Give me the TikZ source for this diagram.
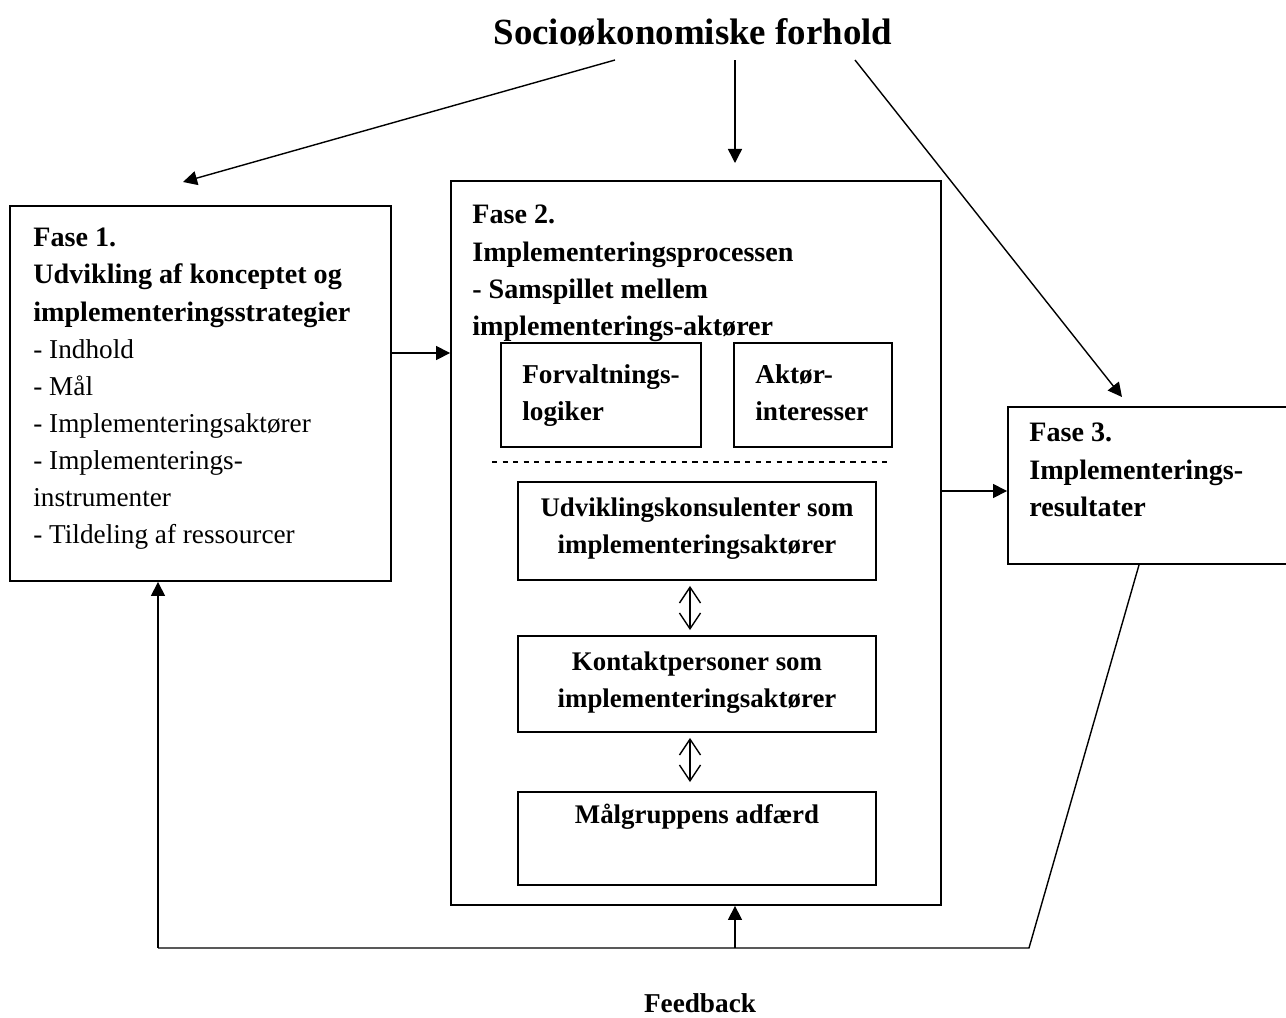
\documentclass[tikz,border=0pt]{standalone}
\usepackage{fontspec}
\setmainfont{Liberation Serif}
\usetikzlibrary{arrows.meta}

\newcommand{\hdfont}{\bfseries\fontsize{16}{21.1}\selectfont}

\tikzset{
  box/.style={draw, line width=1.1pt, inner sep=0pt},
  txt/.style={inner sep=0pt, align=left, anchor=north west, font=\fontsize{15.5}{21.1}\selectfont},
  head/.style={txt, font=\hdfont},
  ctxt/.style={inner sep=0pt, align=center, anchor=north, font=\bfseries\fontsize{15.3}{21.1}\selectfont},
  arr/.style={line width=0.8pt, -{Triangle[length=8pt,width=8pt]}},
  dbl/.style={line width=0.8pt, {Straight Barb[length=9pt,width=12pt]}-{Straight Barb[length=9pt,width=12pt]}},
}

\begin{document}
\begin{tikzpicture}[x=0.02cm, y=-0.02cm]
\useasboundingbox (0,0) rectangle (1286,1018);
% the three phases
\node[box, minimum width=7.62cm, minimum height=7.5cm] (f1) at (200.5,393.5) {};
\node[box, minimum width=9.8cm, minimum height=14.48cm] (f2) at (696,543) {};
\node[box, minimum width=5.68cm, minimum height=3.14cm] (f3) at (1150,485.5) {};
% boxes inside phase 2
\node[box, minimum width=4cm, minimum height=2.08cm] (forv) at (601,395) {};
\node[box, minimum width=3.16cm, minimum height=2.08cm] (akt) at (813,395) {};
\node[box, minimum width=7.16cm, minimum height=1.96cm] (udv) at (697,531) {};
\node[box, minimum width=7.16cm, minimum height=1.92cm] (kont) at (697,684) {};
\node[box, minimum width=7.16cm, minimum height=1.86cm] (maal) at (697,838.5) {};
\draw[dashed, line width=0.6pt] (492,462) -- (890,462);

% texts
\node[inner sep=0pt, font=\bfseries\fontsize{21}{25}\selectfont] (title) at (693,32) {Socioøkonomiske forhold};
\node[txt] (f1txt) at (33,228) {\textbf{\hdfont Fase 1.}\\\textbf{\hdfont Udvikling af konceptet og}\\\textbf{\hdfont implementeringsstrategier}\\- Indhold\\- Mål\\- Implementeringsaktører\\- Implementerings-\\instrumenter\\- Tildeling af ressourcer};
\node[head] (f2txt) at (472,205) {Fase 2.\\Implementeringsprocessen\\- Samspillet mellem\\implementerings-aktører};
\node[txt, font=\bfseries\fontsize{15.5}{21.1}\selectfont] (forvtxt) at (522,364) {Forvaltnings-\\logiker};
\node[txt, font=\bfseries\fontsize{15.5}{21.1}\selectfont] (akttxt) at (755,364) {Aktør-\\interesser};
\node[head] (f3txt) at (1029,423) {Fase 3.\\Implementerings-\\resultater};
\node[ctxt] (udvtxt) at (697,497) {Udviklingskonsulenter som\\implementeringsaktører};
\node[ctxt] (konttxt) at (697,651) {Kontaktpersoner som\\implementeringsaktører};
\node[ctxt] (maaltxt) at (697,804) {Målgruppens adfærd};
\node[inner sep=0pt, font=\bfseries\fontsize{15.5}{21.1}\selectfont] (fb) at (700,1003) {Feedback};

% arrows from the title
\coordinate (t1) at (615,60);
\coordinate (t2) at (735,60);
\coordinate (t3) at (855,60);
\coordinate (e1) at (183,182);
\coordinate (e2) at (735,163);
\coordinate (e3) at (1122,397);
\draw[arr] (t1) -- (e1);
\draw[arr] (t2) -- (e2);
\draw[arr] (t3) -- (e3);

% arrows between the phases
\coordinate (h1) at (0,353);
\coordinate (h2) at (0,491);
\draw[arr] (f1.east |- h1) -- (f2.west |- h1);
\draw[arr] (f2.east |- h2) -- (f3.west |- h2);
\draw[dbl] ([xshift=-0.14cm,yshift=-0.1cm]udv.south) -- ([xshift=-0.14cm,yshift=0.1cm]kont.north);
\draw[dbl] ([xshift=-0.14cm,yshift=-0.1cm]kont.south) -- ([xshift=-0.14cm,yshift=0.18cm]maal.north);

% feedback loop
\coordinate (b0) at (1139,0);
\coordinate (b1) at (1029,948);
\coordinate (b2) at (158,948);
\coordinate (b3) at (735,948);
\draw[line width=0.8pt] (f3.south -| b0) -- (b1) -- (b2);
\draw[arr] (b2) -- (b2 |- f1.south);
\draw[arr] (b3) -- (b3 |- f2.south);
\end{tikzpicture}
\end{document}
